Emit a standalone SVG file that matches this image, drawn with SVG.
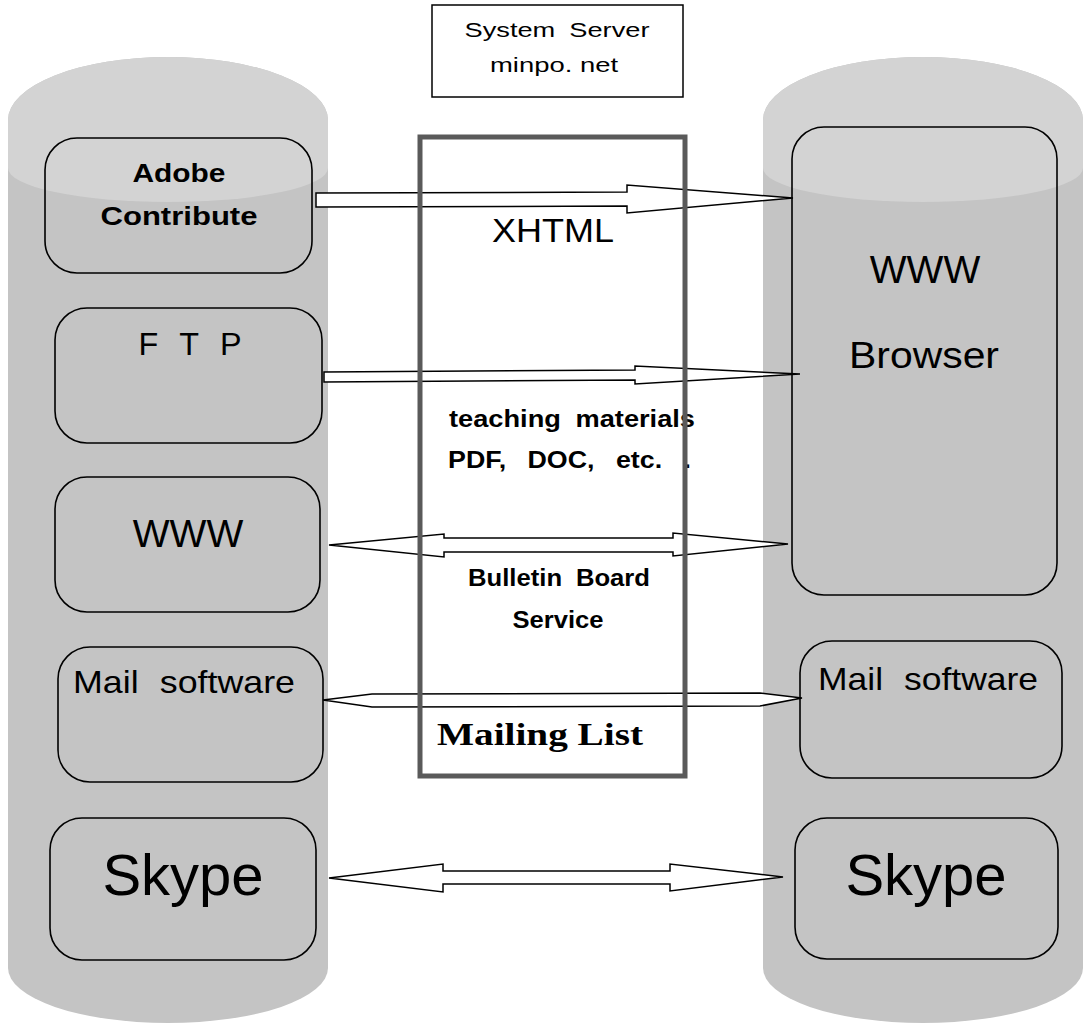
<svg xmlns="http://www.w3.org/2000/svg" width="1085" height="1025" viewBox="0 0 1085 1025">
<style>
.cyl{fill:#c4c4c4;stroke:none}
.cyltop{fill:#d3d3d3;stroke:none}
.box{fill:none;stroke:#000;stroke-width:1.6}
.arr{fill:#fff;stroke:#000;stroke-width:1.5;stroke-linejoin:miter}
.t{font-family:"Liberation Sans",Arial,sans-serif;fill:#000;text-anchor:middle}
.b{font-weight:bold}
</style>
<rect width="1085" height="1025" fill="#fff"/>
<g id="left-cylinder">
<path class="cyl" d="M8,120 A160,63 0 0 1 328,120 L328,968 A160,55 0 0 1 8,968 Z"/>
<path class="cyltop" d="M8,120 A160,63 0 0 1 328,120 L328,168 A160,34 0 0 1 8,168 Z"/>
</g>
<g id="right-cylinder">
<path class="cyl" d="M763,120 A160,63 0 0 1 1083,120 L1083,968 A160,55 0 0 1 763,968 Z"/>
<path class="cyltop" d="M763,120 A160,63 0 0 1 1083,120 L1083,168 A160,34 0 0 1 763,168 Z"/>
</g>
<rect x="420" y="137" width="265" height="639" fill="#fff"/>
<g id="server">
<rect x="432" y="5" width="251" height="92" fill="#fff" stroke="#000" stroke-width="1.5"/>
<text class="t" x="557" y="37" font-size="21" word-spacing="5" textLength="185" lengthAdjust="spacingAndGlyphs">System Server</text>
<text class="t" x="554" y="72" font-size="21" textLength="128" lengthAdjust="spacingAndGlyphs">minpo. net</text>
</g>
<g id="adobe">
<rect class="box" x="45" y="138" width="267" height="135" rx="32"/>
<text class="t b" x="179" y="182" font-size="25" textLength="93" lengthAdjust="spacingAndGlyphs">Adobe</text>
<text class="t b" x="179" y="225" font-size="25" textLength="157" lengthAdjust="spacingAndGlyphs">Contribute</text>
</g>
<g id="ftp">
<rect class="box" x="55" y="308" width="267" height="135" rx="32"/>
<text class="t" x="190" y="355" font-size="31" word-spacing="12" textLength="103" lengthAdjust="spacingAndGlyphs">F T P</text>
</g>
<g id="www-left">
<rect class="box" x="55" y="477" width="265" height="135" rx="32"/>
<text class="t" x="188" y="547" font-size="39">WWW</text>
</g>
<g id="mail-left">
<rect class="box" x="58" y="647" width="265" height="135" rx="32"/>
<text class="t" x="184" y="693" font-size="32" word-spacing="10" textLength="222" lengthAdjust="spacingAndGlyphs">Mail software</text>
</g>
<g id="skype-left">
<rect class="box" x="50" y="818" width="266" height="142" rx="32"/>
<text class="t" x="183" y="895" font-size="58">Skype</text>
</g>
<g id="browser">
<rect class="box" x="792" y="127" width="265" height="468" rx="32"/>
<text class="t" x="925" y="283" font-size="39">WWW</text>
<text class="t" x="924" y="368" font-size="37" textLength="150" lengthAdjust="spacingAndGlyphs">Browser</text>
</g>
<g id="mail-right">
<rect class="box" x="800" y="641" width="262" height="137" rx="32"/>
<text class="t" x="928" y="690" font-size="32" word-spacing="10" textLength="220" lengthAdjust="spacingAndGlyphs">Mail software</text>
</g>
<g id="skype-right">
<rect class="box" x="795" y="818" width="263" height="141" rx="32"/>
<text class="t" x="926" y="895" font-size="58">Skype</text>
</g>
<g id="connectors">
<polygon class="arr" points="316,193 627,192 627,185 793,198 627,213 627,206 316,207"/>
<polygon class="arr" points="324,372 635,370 635,366 800,374 635,384 635,380 324,382"/>
<polygon class="arr" points="329,545 444,534 444,538 673,538 673,533 788,544 673,556 673,552 444,552 444,557"/>
<polygon class="arr" points="323,700 372,694 760,693 802,698 760,706 372,707"/>
<polygon class="arr" points="329,878 443,864 443,871 670,871 670,864 783,877 670,891 670,884 443,884 443,892"/>
</g>
<g id="center-labels">
<text class="t" x="553" y="242" font-size="33" textLength="122" lengthAdjust="spacingAndGlyphs">XHTML</text>
<text class="t b" x="572" y="427" font-size="23" word-spacing="6" textLength="246" lengthAdjust="spacingAndGlyphs">teaching materials</text>
<text class="t b" x="448" y="468" font-size="23" style="text-anchor:start" word-spacing="12" textLength="243" lengthAdjust="spacingAndGlyphs">PDF, DOC, etc. .</text>
<text class="t b" x="559" y="586" font-size="23" word-spacing="6" textLength="182" lengthAdjust="spacingAndGlyphs">Bulletin Board</text>
<text class="t b" x="558" y="628" font-size="23" textLength="91" lengthAdjust="spacingAndGlyphs">Service</text>
<text x="437" y="745" font-family="'Liberation Serif','Times New Roman',serif" font-weight="900" font-size="31" textLength="206" lengthAdjust="spacingAndGlyphs">Mailing List</text>
</g>
<rect id="system-frame" x="420" y="137" width="265" height="639" fill="none" stroke="#5a5a5a" stroke-width="5"/>
</svg>
